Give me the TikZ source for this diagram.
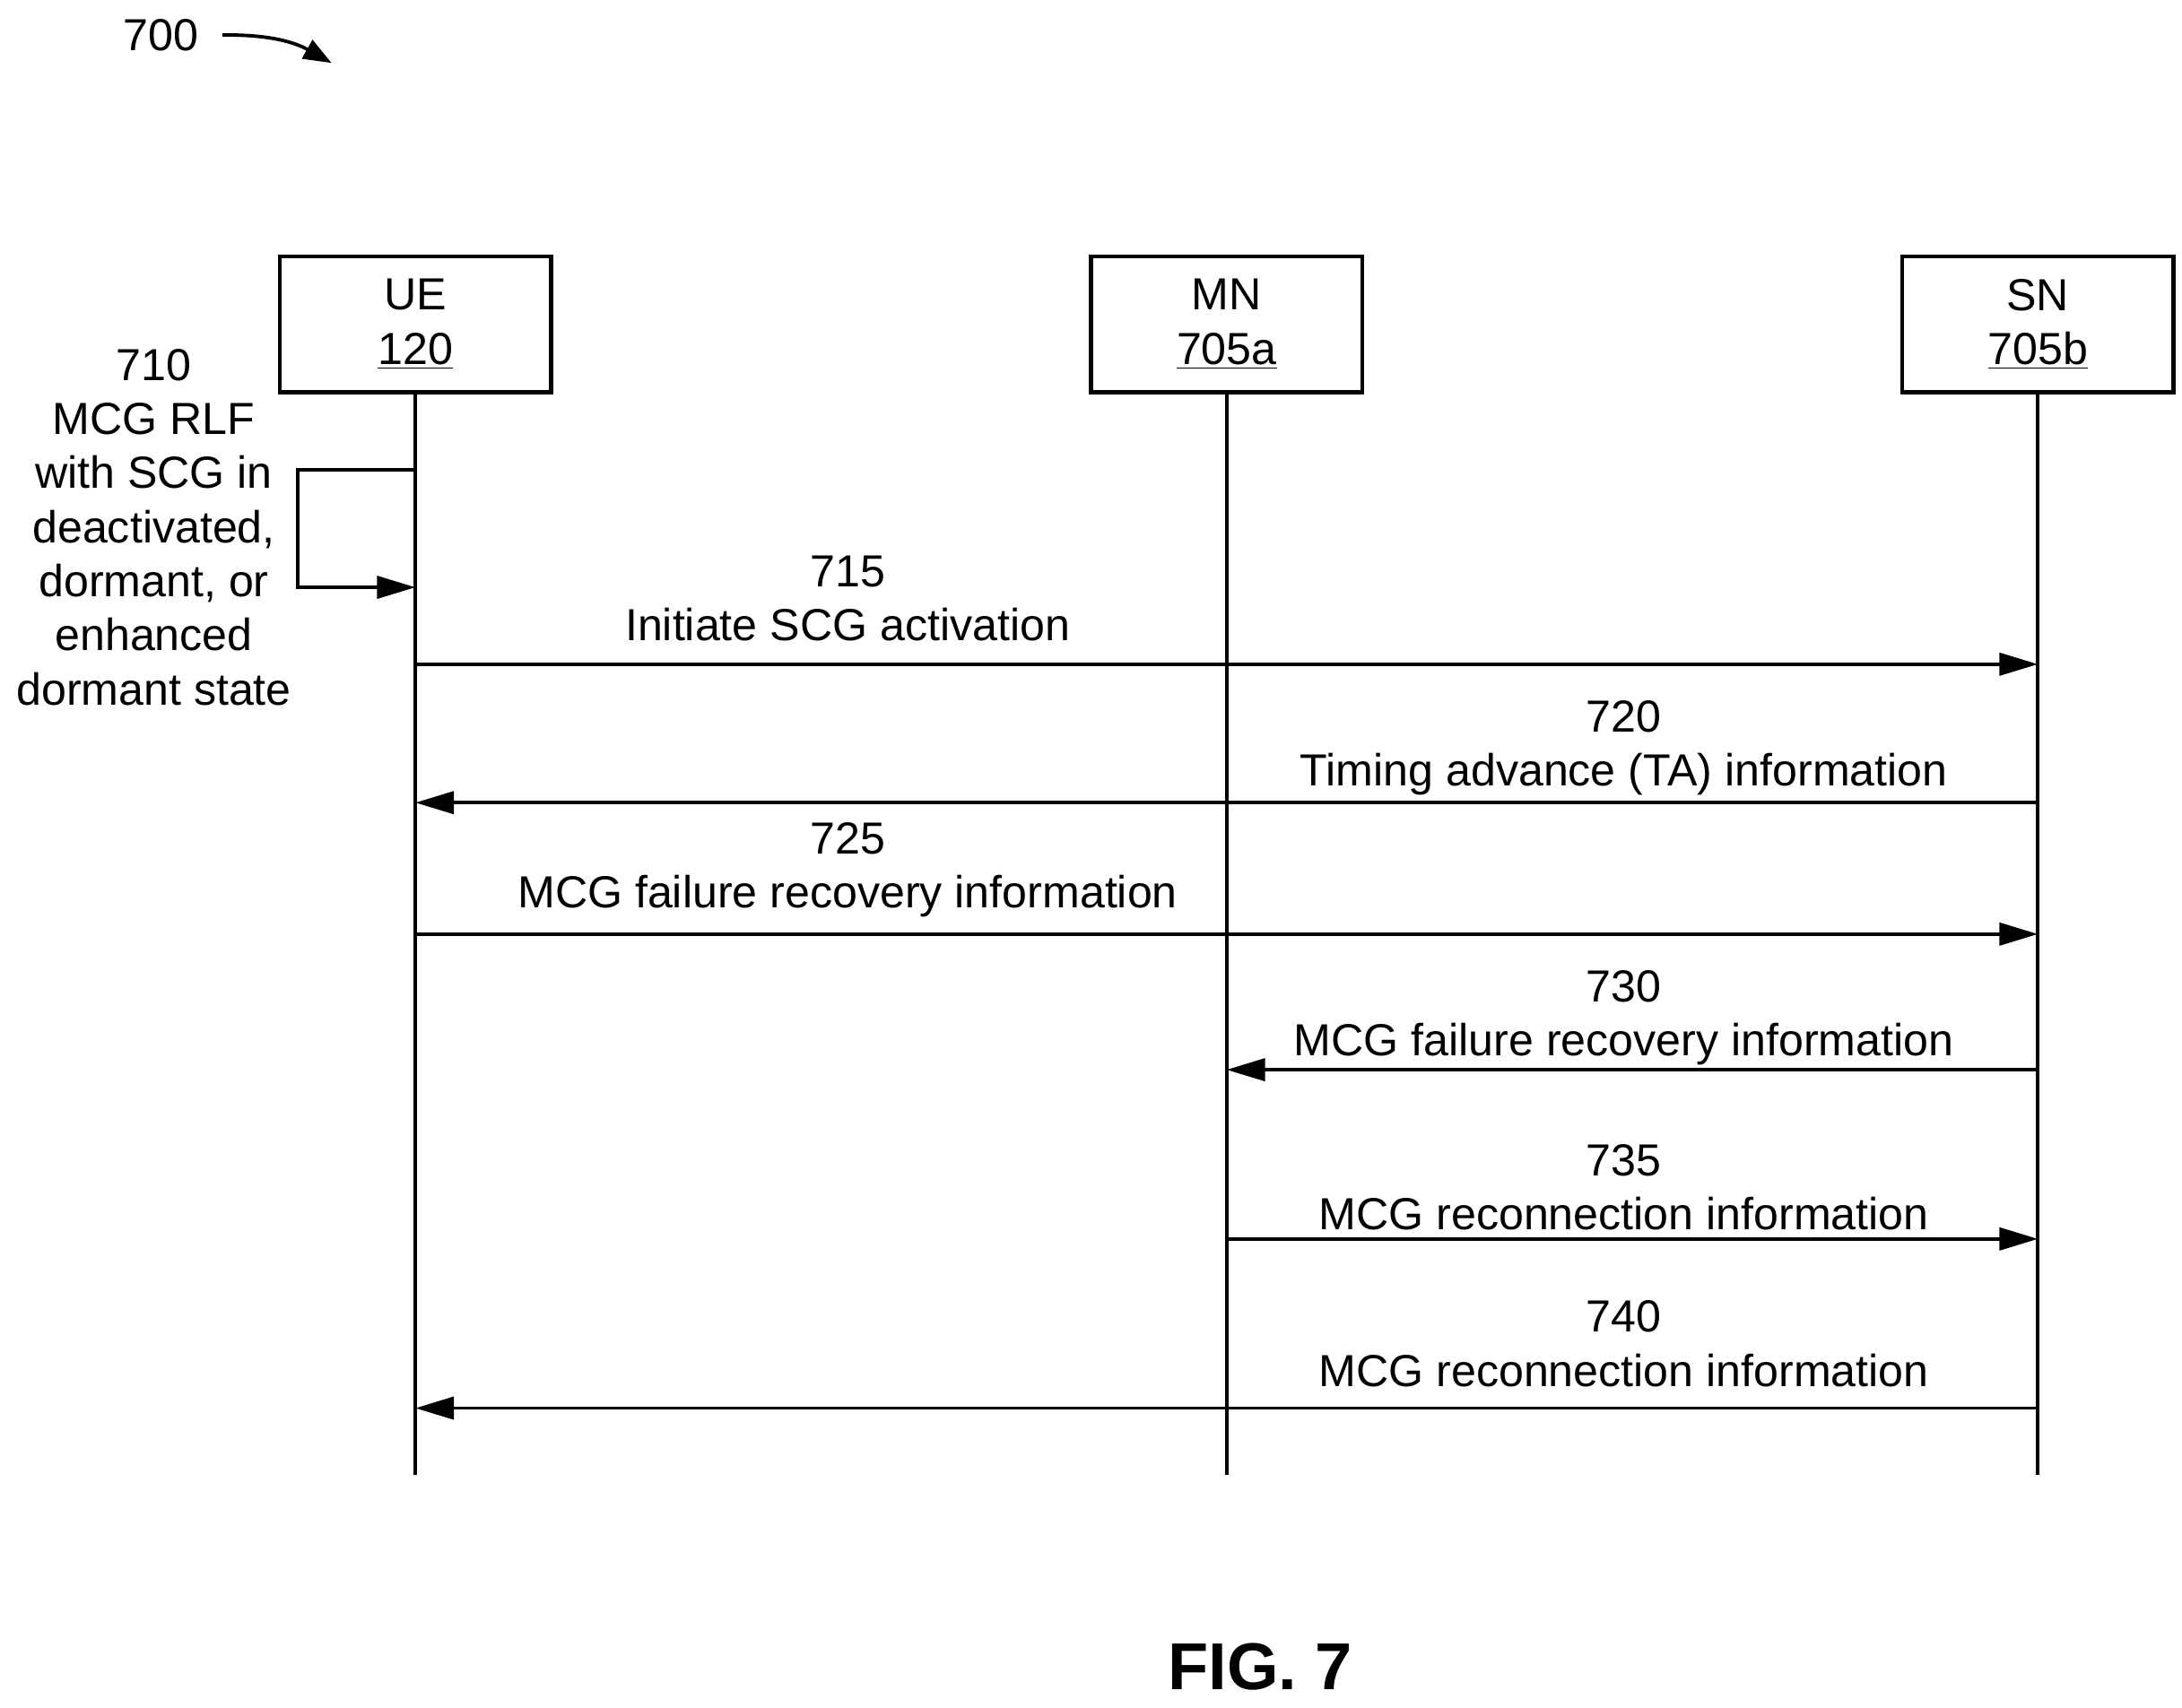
\documentclass[tikz,border=0pt]{standalone}
\usepackage{fontspec}
\setmainfont{Liberation Sans}
\usetikzlibrary{arrows.meta,positioning}
\begin{document}
\begin{tikzpicture}[x=0.02cm,y=-0.02cm,line width=1.4pt,
  every node/.style={font=\fontsize{18.3}{22}\selectfont},
  entity/.style={draw,minimum width=3.88cm,minimum height=1.94cm,align=center,line width=1.6pt},
  msg/.style={-{Triangle[length=0.55cm,width=0.32cm]}},
  lbl/.style={align=center,inner sep=0pt}]
\useasboundingbox (0,0) rectangle (1560,1221);

% Entities
\node[entity] (UE) at (297,232) {UE\\\underline{120}};
\node[entity] (MN) at (877,232) {MN\\\underline{705a}};
\node[entity] (SN) at (1457,232) {SN\\\underline{705b}};

% Lifelines
\coordinate (UE-end) at (297,1055);
\coordinate (MN-end) at (877,1055);
\coordinate (SN-end) at (1457,1055);
\draw (UE.south) -- (UE-end);
\draw (MN.south) -- (MN-end);
\draw (SN.south) -- (SN-end);

% Figure number
\node (fignum) at (115,25) {700};
\coordinate (fig-tip) at (237,45);
\draw[-{Triangle[length=0.4cm,width=0.3cm]}] (fignum.east) ++(10,0) to[bend left=15] (fig-tip);

% 710 self loop
\coordinate (loop-a) at (297,336);
\coordinate (loop-b) at (297,420);
\draw[msg] (loop-a) -- (213,336) -- (213,420) -- (loop-b);
\node[lbl] (s710) at (110,377) {710\\MCG RLF\\with SCG in\\deactivated,\\dormant, or\\enhanced\\dormant state};

% Messages
\coordinate (ue-715) at (297,475);  \coordinate (sn-715) at (1457,475);
\coordinate (sn-720) at (1457,574); \coordinate (ue-720) at (297,574);
\coordinate (ue-725) at (297,668);  \coordinate (sn-725) at (1457,668);
\coordinate (sn-730) at (1457,765); \coordinate (mn-730) at (877,765);
\coordinate (mn-735) at (877,886);  \coordinate (sn-735) at (1457,886);
\coordinate (sn-740) at (1457,1007);\coordinate (ue-740) at (297,1007);

\draw[msg] (ue-715) -- (sn-715);
\draw[msg] (sn-720) -- (ue-720);
\draw[msg] (ue-725) -- (sn-725);
\draw[msg] (sn-730) -- (mn-730);
\draw[msg] (mn-735) -- (sn-735);
\draw[msg] (sn-740) -- (ue-740);

% Message labels
\node[lbl] (l715) at (606,428) {715\\Initiate SCG activation};
\node[lbl] (l720) at (1161,535) {720\\Timing advance (TA) information};
\node[lbl] (l725) at (606,622) {725\\MCG failure recovery information};
\node[lbl] (l730) at (1161,728) {730\\MCG failure recovery information};
\node[lbl] (l735) at (1161,849) {735\\MCG reconnection information};
\node[lbl] (l740) at (1161,961) {740\\MCG reconnection information};

\node[font=\fontsize{27}{30}\selectfont\bfseries] (fig) at (901,1192) {FIG. 7};
\end{tikzpicture}
\end{document}
